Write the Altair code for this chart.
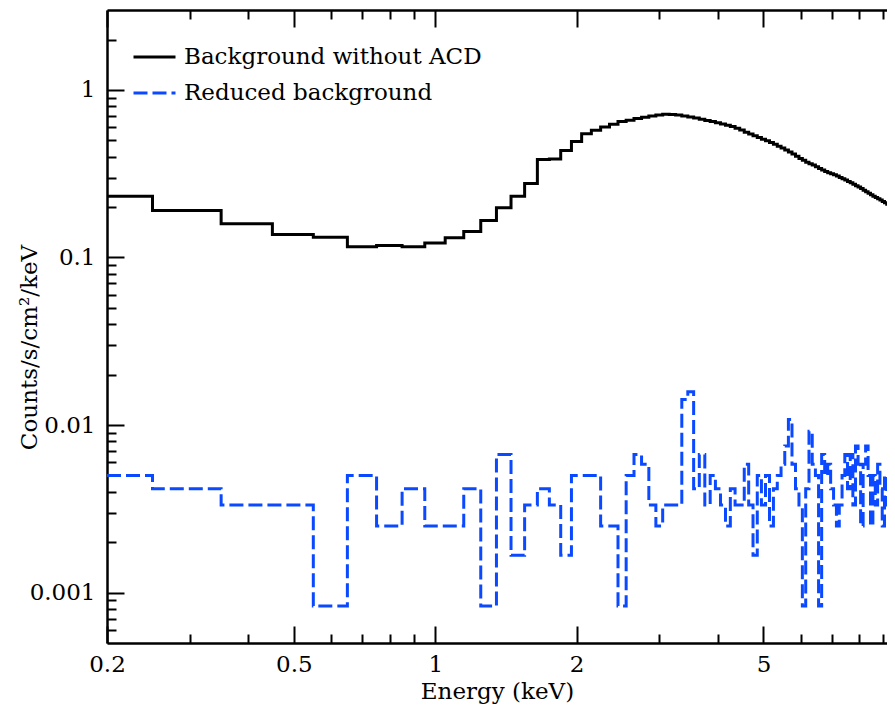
import altair as alt
import pandas as pd

# Energy bin low edges (keV): first bin 0.20-0.25, then 0.1 keV bins
bin_lo = [0.2] + [round(0.25 + 0.1 * i, 2) for i in range(98)]
bin_end = 10.05

series_names = ["Background without ACD", "Reduced background"]

bkg_no_acd = [
    0.232, 0.191, 0.159, 0.137, 0.132, 0.116, 0.118, 0.116, 0.122, 0.131,
    0.143, 0.166, 0.198, 0.232, 0.276, 0.385, 0.387, 0.435, 0.493, 0.547,
    0.575, 0.600, 0.625, 0.648, 0.660, 0.675, 0.688, 0.698, 0.708, 0.716,
    0.714, 0.708, 0.700, 0.690, 0.679, 0.668, 0.658, 0.648, 0.638, 0.627,
    0.616, 0.604, 0.590, 0.576, 0.560, 0.545, 0.532, 0.520, 0.508, 0.497,
    0.486, 0.474, 0.462, 0.450, 0.438, 0.426, 0.414, 0.402, 0.390, 0.380,
    0.370, 0.362, 0.356, 0.348, 0.340, 0.333, 0.326, 0.320, 0.316, 0.312,
    0.306, 0.300, 0.295, 0.290, 0.284, 0.279, 0.274, 0.268, 0.263, 0.258,
    0.252, 0.247, 0.242, 0.237, 0.232, 0.228, 0.224, 0.220, 0.216, 0.212,
    0.208, 0.204, 0.201, 0.198, 0.194, 0.191, 0.188, 0.185, 0.182,
]

bkg_reduced = [
    0.0050, 0.00417, 0.00333, 0.00333, 0.00083, 0.0050, 0.0025, 0.00417, 0.0025, 0.0025,
    0.00417, 0.00083, 0.00667, 0.00167, 0.00333, 0.00417, 0.00333, 0.00167, 0.0050, 0.0050,
    0.0050, 0.0025, 0.0025, 0.00083, 0.0050, 0.00667, 0.00583, 0.00333, 0.0025, 0.00333,
    0.00333, 0.00333, 0.0142, 0.0158, 0.00417, 0.00667, 0.00333, 0.0050, 0.00417, 0.00333,
    0.0025, 0.00417, 0.00333, 0.00333, 0.00583, 0.00333, 0.00167, 0.0050, 0.00333, 0.0050,
    0.0025, 0.00417, 0.0050, 0.00583, 0.0075, 0.0108, 0.00583, 0.00417, 0.00333, 0.00083,
    0.00417, 0.00917, 0.00583, 0.0050, 0.00083, 0.00667, 0.0050, 0.00583, 0.00417, 0.00333,
    0.0025, 0.00333, 0.0050, 0.00667, 0.00417, 0.00667, 0.00333, 0.0075, 0.00583, 0.0025,
    0.00583, 0.0075, 0.0050, 0.0025, 0.0050, 0.00333, 0.00583, 0.00417, 0.0025, 0.0050,
    0.00333, 0.00583, 0.00417, 0.0025, 0.0050, 0.00417, 0.0050, 0.00333, 0.00417,
]

assert len(bin_lo) == len(bkg_no_acd) == len(bkg_reduced)

x_labels = [0.2, 0.5, 1, 2, 5]
x_major = [0.2, 0.5, 1, 2, 5]
x_minor = [0.3, 0.4, 0.6, 0.7, 0.8, 0.9, 3, 4, 6, 7, 8, 9]
y_major = [0.001, 0.01, 0.1, 1]
y_minor = [0.0006, 0.0007, 0.0008, 0.0009,
           0.002, 0.003, 0.004, 0.005, 0.006, 0.007, 0.008, 0.009,
           0.02, 0.03, 0.04, 0.05, 0.06, 0.07, 0.08, 0.09,
           0.2, 0.3, 0.4, 0.5, 0.6, 0.7, 0.8, 0.9, 2]

rows = []
for name, vals in zip(series_names, [bkg_no_acd, bkg_reduced]):
    for e, v in zip(bin_lo, vals):
        rows.append({"E": e, "rate": v, "series": name})
    rows.append({"E": bin_end, "rate": vals[-1], "series": name})
df = pd.DataFrame(rows)

# The figure is cropped at its right edge: the visible plot area ends near 9.16 keV
W, H = 780, 633
FONT = "DejaVu Serif"
FS = 23
AXW = 2.5

xscale = alt.Scale(type="log", domain=[0.2, 9.162], nice=False)
yscale = alt.Scale(type="log", domain=[0.0005, 3], nice=False)

legend_cfg = dict(
    title=None, orient="none", legendX=25, legendY=32, padding=0,
    symbolType="stroke", symbolSize=1764, symbolStrokeWidth=3,
    labelFont=FONT, labelFontSize=FS, labelColor="black", labelOffset=7,
    labelLimit=600, clipHeight=30, rowPadding=6,
)

lines = alt.Chart(df).mark_line(interpolate="step-after", strokeWidth=3, clip=True).encode(
    x=alt.X("E:Q", scale=xscale,
            axis=alt.Axis(orient="bottom", values=x_labels, format="~g", ticks=False, tickSize=0,
                          domain=True, domainColor="black", domainWidth=AXW, grid=False,
                          labelPadding=10, labelFlush=False, labelOverlap=False,
                          title="Energy (keV)", titleY=55, titleBaseline="alphabetic")),
    y=alt.Y("rate:Q", scale=yscale,
            axis=alt.Axis(orient="left", values=y_major, format="~g", ticks=False, tickSize=0,
                          domain=True, domainColor="black", domainWidth=AXW, grid=False,
                          labelPadding=12, labelFlush=False, labelOverlap=False,
                          title="Counts/s/cm²/keV", titleX=-71, titleY=337,
                          titleBaseline="alphabetic", titleAlign="center")),
    color=alt.Color("series:N", scale=alt.Scale(domain=series_names, range=["#000000", "#0a49ff"]),
                    legend=alt.Legend(**legend_cfg)),
    strokeDash=alt.StrokeDash("series:N", scale=alt.Scale(domain=series_names, range=[[1, 0], [14, 5]]),
                              legend=alt.Legend(**legend_cfg)),
)


def tick_axis(orient, offset, vals, size, domain=False):
    return alt.Axis(orient=orient, offset=offset, values=vals, labels=False, domain=domain,
                    domainColor="black", domainWidth=AXW, grid=False, ticks=True,
                    tickSize=size, tickWidth=2, tickColor="black", title=None)


def tick_layer(x_axis, y_axis):
    return alt.Chart(df).mark_point(opacity=0, clip=True).encode(
        x=alt.X("E:Q", scale=xscale, axis=x_axis),
        y=alt.Y("rate:Q", scale=yscale, axis=y_axis),
    )


layers = [
    lines,
    # inward ticks on the bottom and left edges
    tick_layer(tick_axis("top", -H, x_major, 17), tick_axis("right", -W, y_major, 17)),
    tick_layer(tick_axis("top", -H, x_minor, 9), tick_axis("right", -W, y_minor, 9)),
    # inward ticks on the top edge, with its border line
    tick_layer(tick_axis("bottom", -H, x_major, 17, domain=True), None),
    tick_layer(tick_axis("bottom", -H, x_minor, 9), None),
]

chart = alt.layer(*layers).resolve_axis(x="independent", y="independent").properties(
    width=W, height=H,
    padding={"left": 99, "top": 2, "right": 0, "bottom": 62},
    autosize=alt.AutoSizeParams(type="none"),
).configure_view(
    stroke=None
).configure_axis(
    labelFont=FONT, titleFont=FONT, labelFontSize=FS, titleFontSize=FS,
    labelColor="black", titleColor="black", titleFontWeight="normal",
)

chart.save("out.html", embed_options={"renderer": "svg", "actions": False})
